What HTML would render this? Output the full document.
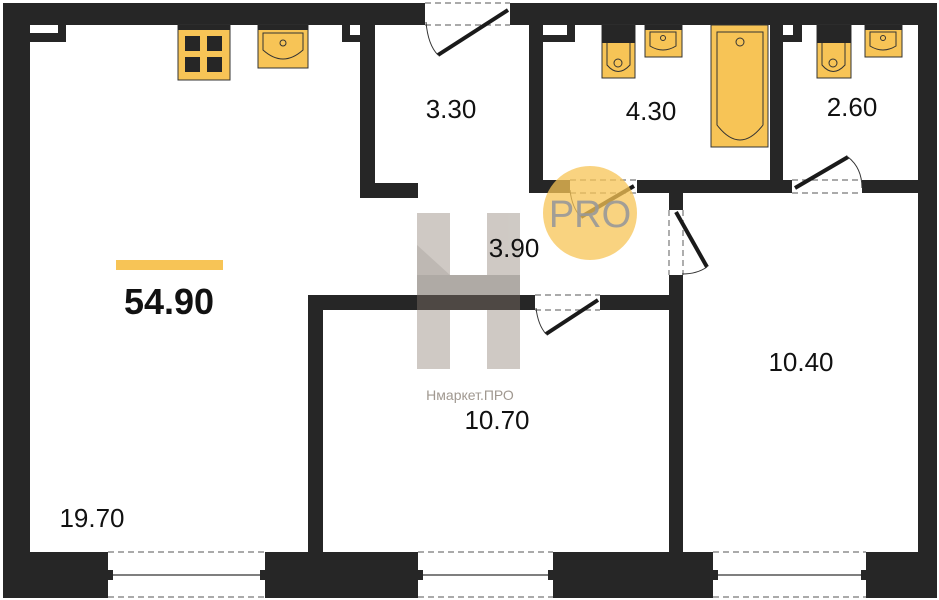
<!DOCTYPE html>
<html><head><meta charset="utf-8"><style>
html,body{margin:0;padding:0;background:#fff;width:939px;height:600px;overflow:hidden}
text{font-family:"Liberation Sans",sans-serif}
</style></head><body>
<svg width="939" height="600" viewBox="0 0 939 600" xmlns="http://www.w3.org/2000/svg">
<g fill="#262626">
<!-- outer walls -->
<rect x="3" y="3" width="422" height="22"/>
<rect x="510" y="3" width="427" height="22"/>
<rect x="3" y="3" width="27" height="595"/>
<rect x="918" y="3" width="19" height="595"/>
<rect x="3" y="552" width="105" height="46"/>
<rect x="265" y="552" width="153" height="46"/>
<rect x="553" y="552" width="160" height="46"/>
<rect x="866" y="552" width="71" height="46"/>
<!-- nibs -->
<rect x="30" y="25" width="36" height="17"/>
<rect x="342" y="25" width="18" height="17"/>
<rect x="543" y="25" width="32" height="17"/>
<rect x="783" y="25" width="19" height="17"/>
<!-- kitchen wall -->
<rect x="360" y="25" width="15" height="173"/>
<rect x="360" y="183" width="58" height="15"/>
<!-- bath walls -->
<rect x="529" y="25" width="14" height="168"/>
<rect x="529" y="180" width="41" height="13"/>
<rect x="637" y="180" width="155" height="13"/>
<rect x="862" y="180" width="56" height="13"/>
<rect x="770" y="25" width="13" height="155"/>
<!-- corridor / room 10.40 wall -->
<rect x="669" y="193" width="14" height="17"/>
<rect x="669" y="275" width="14" height="277"/>
<!-- bedroom -->
<rect x="308" y="295" width="227" height="15"/>
<rect x="600" y="295" width="69" height="15"/>
<rect x="308" y="295" width="15" height="257"/>
</g>
<g fill="#fff">
<rect x="30" y="25" width="28" height="8"/>
<rect x="350" y="25" width="10" height="10"/>
<rect x="543" y="25" width="24" height="10"/>
<rect x="783" y="25" width="10" height="10"/>
</g>
<!-- windows -->
<g stroke="#777" stroke-width="1.2" stroke-dasharray="6,4" fill="none">
<line x1="108" y1="552" x2="265" y2="552"/><line x1="108" y1="597" x2="265" y2="597"/>
<line x1="418" y1="552" x2="553" y2="552"/><line x1="418" y1="597" x2="553" y2="597"/>
<line x1="713" y1="552" x2="866" y2="552"/><line x1="713" y1="597" x2="866" y2="597"/>
<!-- door dashed -->
<line x1="425" y1="3" x2="510" y2="3"/><line x1="425" y1="25" x2="510" y2="25"/>
<line x1="570" y1="180" x2="637" y2="180"/><line x1="570" y1="193" x2="637" y2="193"/>
<line x1="792" y1="180" x2="862" y2="180"/><line x1="792" y1="193" x2="862" y2="193"/>
<line x1="535" y1="295" x2="600" y2="295"/><line x1="535" y1="310" x2="600" y2="310"/>
<line x1="669" y1="210" x2="669" y2="275"/><line x1="683" y1="210" x2="683" y2="275"/>
</g>
<g stroke="#333" stroke-width="1.2">
<line x1="110" y1="575" x2="263" y2="575"/>
<line x1="420" y1="575" x2="551" y2="575"/>
<line x1="715" y1="575" x2="864" y2="575"/>
</g>
<g fill="#262626">
<rect x="108" y="570" width="5" height="10"/><rect x="260" y="570" width="5" height="10"/>
<rect x="418" y="570" width="5" height="10"/><rect x="548" y="570" width="5" height="10"/>
<rect x="713" y="570" width="5" height="10"/><rect x="861" y="570" width="5" height="10"/>
</g>
<!-- door leaves -->
<g stroke="#1a1a1a" stroke-width="4" stroke-linecap="butt">
<line x1="508" y1="10" x2="438" y2="55"/>
<line x1="634" y1="186" x2="581" y2="217"/>
<line x1="795" y1="188" x2="848" y2="157"/>
<line x1="598" y1="300" x2="546" y2="334"/>
<line x1="676" y1="212" x2="707" y2="267"/>
</g>
<g stroke="#333" stroke-width="1" fill="none">
<path d="M426 22 Q428 45 438 55"/>
<path d="M570 190 Q572 208 581 217"/>
<path d="M862 188 Q862 168 848 157"/>
<path d="M536 308 Q538 325 546 334"/>
<path d="M682 274 Q697 274 707 267"/>
</g>
<!-- fixtures -->
<g fill="#f7c456" stroke="#333" stroke-width="1">
<rect x="178" y="25" width="52" height="55"/>
<rect x="258" y="25" width="50" height="43"/>
<rect x="602" y="25" width="33" height="53"/>
<rect x="645" y="25" width="37" height="32"/>
<rect x="711" y="25" width="57" height="122"/>
<rect x="817" y="25" width="34" height="53"/>
<rect x="865" y="25" width="37" height="32"/>
</g>
<g fill="#262626">
<rect x="178" y="25" width="52" height="5"/>
<rect x="258" y="25" width="50" height="5"/>
<rect x="602" y="25" width="33" height="18"/>
<rect x="645" y="25" width="37" height="5"/>
<rect x="817" y="25" width="34" height="18"/>
<rect x="865" y="25" width="37" height="5"/>
<rect x="185" y="36" width="15" height="15"/><rect x="207" y="36" width="15" height="15"/>
<rect x="185" y="57" width="15" height="15"/><rect x="207" y="57" width="15" height="15"/>
</g>
<g fill="none" stroke="#333" stroke-width="1">
<path d="M263 33 V50 Q283 68 303 50 V33 Z"/>
<circle cx="283" cy="43" r="3"/>
<path d="M607 43 V65 Q618 78 630 65 V43"/><circle cx="618" cy="63" r="4"/>
<path d="M650 32 V46 Q663 54 676 46 V32 Z"/><circle cx="663" cy="38" r="2.5"/>
<path d="M717 32 V125 Q740 155 763 125 V32 Z"/><circle cx="740" cy="42" r="4"/>
<path d="M822 43 V65 Q833 78 845 65 V43"/><circle cx="833" cy="63" r="4"/>
<path d="M870 32 V46 Q883 54 896 46 V32 Z"/><circle cx="883" cy="38" r="2.5"/>
</g>
<!-- watermark H -->
<g opacity="0.55">
<polygon points="417,213 450,213 450,369 417,369" fill="#a89e95"/>
<polygon points="487,213 520,213 520,369 487,369" fill="#a89e95"/>
<polygon points="417,245 450,275 417,305" fill="#8a7f76"/>
<polygon points="417,275 520,275 520,310 417,310" fill="#6f655d"/>
</g>
<text x="470" y="400" font-size="14" fill="#a09890" text-anchor="middle">Нмаркет.ПРО</text>
<circle cx="590" cy="213" r="47" fill="#f7c456" opacity="0.75"/>
<text x="590" y="227" font-size="38" fill="#999" text-anchor="middle" opacity="0.9">PRO</text>
<!-- labels -->
<rect x="116" y="260" width="107" height="10" fill="#f7c456"/>
<g font-size="26" fill="#111" text-anchor="middle">
<text x="451" y="118">3.30</text>
<text x="651" y="120">4.30</text>
<text x="852" y="116">2.60</text>
<text x="514" y="257">3.90</text>
<text x="801" y="371">10.40</text>
<text x="497" y="429">10.70</text>
<text x="92" y="527">19.70</text>
</g>
<text x="169" y="314" font-size="36" font-weight="bold" fill="#111" text-anchor="middle">54.90</text>
</svg>
</body></html>
